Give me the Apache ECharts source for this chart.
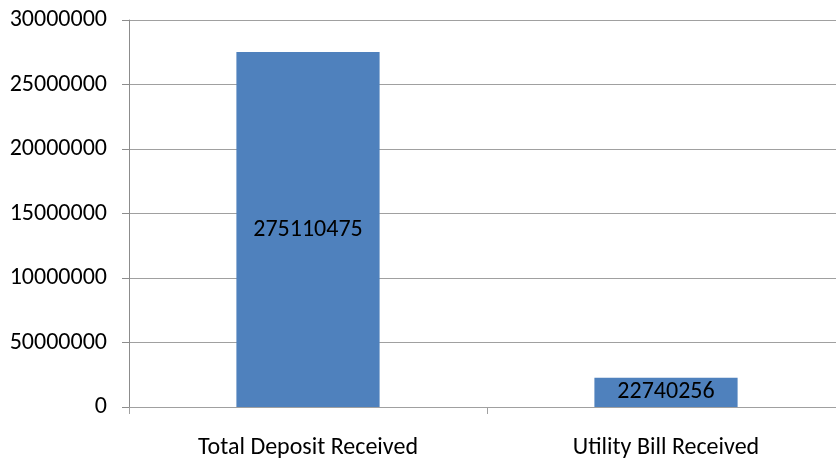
<!DOCTYPE html>
<html>
<head>
<meta charset="utf-8">
<script src="https://cdn.jsdelivr.net/npm/echarts@6/dist/echarts.min.js"></script>
<style>
  html, body { margin: 0; padding: 0; background: #fff; overflow: hidden; }
  /* plot area runs a bit past the right edge of the window, like the original */
  #chart { width: 845px; height: 461px; }
</style>
</head>
<body>
<div id="chart"></div>
<script>
// chart data
const categories = ['Total Deposit Received', 'Utility Bill Received']
const values = [275110475, 22740256]
// tick labels as printed on the original (0 at bottom)
const yTickLabels = ['0', '50000000', '10000000', '15000000', '20000000', '25000000', '30000000']
const yStep = 50000000

const fontFamily = 'Carlito, Lato, "Open Sans", sans-serif'
const myChart = echarts.init(document.getElementById('chart'))

const option = {
    animation: false,
    backgroundColor: '#fff',
    grid: {
        left: 129,
        right: 0,
        top: 20,
        bottom: 54,
        containLabel: false
    },
    xAxis: {
        type: 'category',
        data: categories,
        axisLine: { show: true, lineStyle: { color: '#a0a0a0', width: 1 } },
        axisTick: { show: true, length: 7, lineStyle: { color: '#a0a0a0' } },
        axisLabel: {
            color: '#000',
            fontSize: 24,
            fontFamily: fontFamily,
            margin: 29
        }
    },
    yAxis: {
        type: 'value',
        min: 0,
        max: yStep * (yTickLabels.length - 1),
        interval: yStep,
        axisLine: { show: true, lineStyle: { color: '#8c8c8c', width: 1 } },
        axisTick: { show: true, inside: false, length: 7, lineStyle: { color: '#8c8c8c' } },
        splitLine: { show: true, lineStyle: { color: '#a0a0a0', width: 1 } },
        axisLabel: {
            color: '#000',
            fontSize: 24,
            fontFamily: fontFamily,
            margin: 22,
            formatter: function (v) {
                return yTickLabels[Math.round(v / yStep)]
            }
        }
    },
    series: [{
        type: 'bar',
        data: values,
        barWidth: '40%',
        itemStyle: { color: '#4f81bd' },
        label: {
            show: true,
            position: 'inside',
            color: '#000',
            fontSize: 24,
            fontFamily: fontFamily
        }
    }]
}
option && myChart.setOption(option)
</script>
</body>
</html>
